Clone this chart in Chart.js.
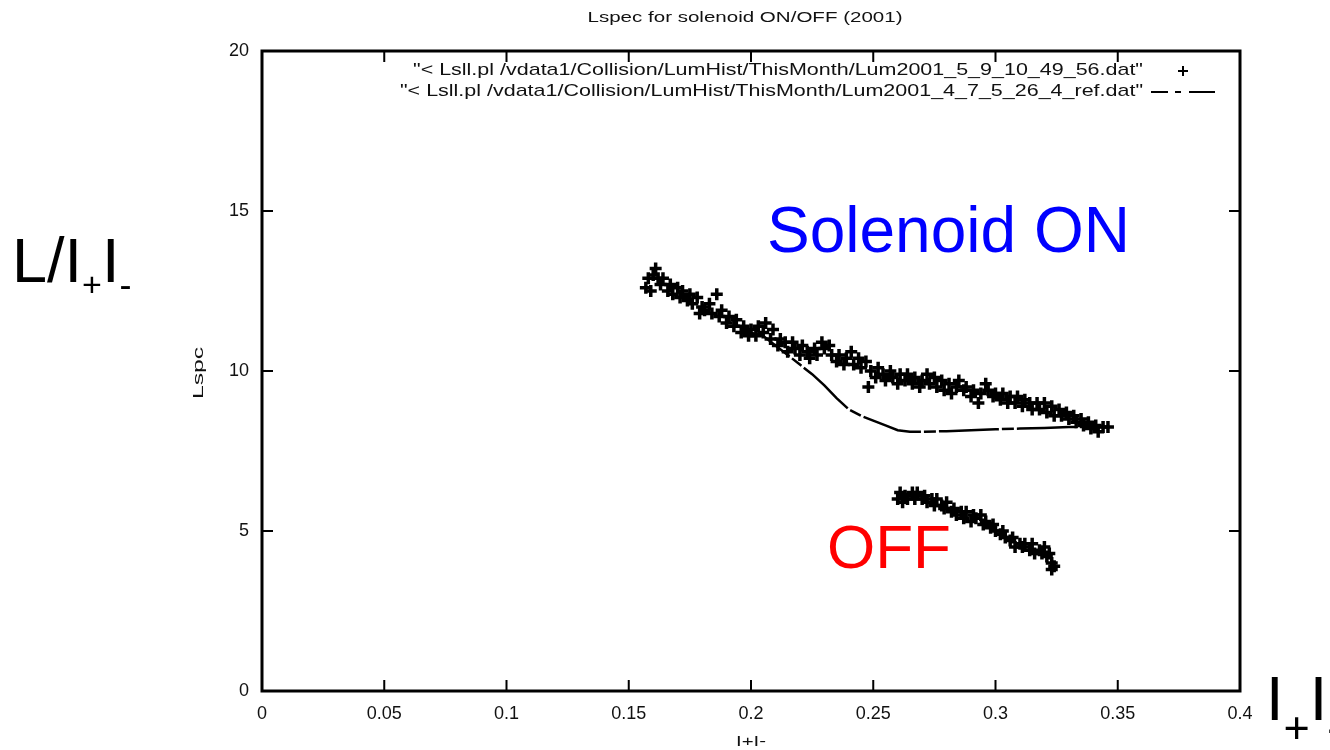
<!DOCTYPE html>
<html>
<head>
<meta charset="utf-8">
<title>Lspec for solenoid ON/OFF (2001)</title>
<script src="https://cdn.jsdelivr.net/npm/chart.js@4.4.0/dist/chart.umd.min.js"></script>
<style>
  html, body { margin: 0; padding: 0; background: #fff; }
  #wrap { position: relative; width: 1330px; height: 750px; overflow: hidden; }
  #canvas { position: absolute; left: 0; top: 0; }
  .big { position: absolute; font-family: "Liberation Sans", Arial, sans-serif; line-height: 1; white-space: nowrap; }
  .big span { display: inline-block; }
</style>
</head>
<body>
<div id="wrap">
  <canvas id="canvas" width="1330" height="750"></canvas>
  <div class="big" style="left:12px; top:229px; font-size:63px; color:#000;">L/I<span style="font-size:34px; vertical-align:-14px;">+</span>I<span style="font-size:36px; vertical-align:-15px;">-</span></div>
  <div class="big" style="left:1266px; top:667px; font-size:63px; color:#000;">I<span style="font-size:45px; vertical-align:-23px;">+</span>I<span style="font-size:45px; vertical-align:-23px;">-</span></div>
  <div class="big" style="left:767px; top:198px; font-size:64px; color:#0000ff;">Solenoid ON</div>
  <div class="big" style="left:827px; top:516px; font-size:62px; color:#ff0000;">OFF</div>
</div>
<script>
// values
const chartTitle = 'Lspec for solenoid ON/OFF (2001)';
const xTitle = 'I+I-';
const yTitle = 'Lspc';
const seriesNames = [
    '"< Lsll.pl /vdata1/Collision/LumHist/ThisMonth/Lum2001_5_9_10_49_56.dat"',
    '"< Lsll.pl /vdata1/Collision/LumHist/ThisMonth/Lum2001_4_7_5_26_4_ref.dat"'
];
const xTicks = [0, 0.05, 0.1, 0.15, 0.2, 0.25, 0.3, 0.35, 0.4];
const xTickLabels = ['0', '0.05', '0.1', '0.15', '0.2', '0.25', '0.3', '0.35', '0.4'];
const yTicks = [0, 5, 10, 15, 20];

// solenoid ON run (points)
const onX = [0.157, 0.158, 0.159, 0.160, 0.161, 0.162, 0.163, 0.164, 0.166, 0.167, 0.168, 0.170, 0.171, 0.172, 0.174, 0.175,
    0.176, 0.178, 0.179, 0.180, 0.181, 0.183, 0.184, 0.186, 0.187, 0.188, 0.190, 0.191, 0.193, 0.194, 0.196, 0.197,
    0.199, 0.200, 0.202, 0.203, 0.205, 0.206, 0.208, 0.209, 0.211, 0.212, 0.214, 0.215, 0.217, 0.218, 0.220, 0.221,
    0.223, 0.224, 0.226, 0.227, 0.229, 0.230, 0.232, 0.233, 0.235, 0.236, 0.238, 0.239, 0.241, 0.242, 0.244, 0.245,
    0.247, 0.248, 0.249, 0.251, 0.252, 0.254, 0.255, 0.257, 0.258, 0.260, 0.261, 0.263, 0.264, 0.266, 0.267, 0.269,
    0.270, 0.272, 0.273, 0.275, 0.276, 0.278, 0.279, 0.281, 0.282, 0.284, 0.285, 0.287, 0.288, 0.290, 0.291, 0.293,
    0.294, 0.296, 0.297, 0.299, 0.300, 0.302, 0.303, 0.305, 0.306, 0.308, 0.309, 0.311, 0.312, 0.314, 0.315, 0.317,
    0.318, 0.320, 0.321, 0.323, 0.324, 0.326, 0.327, 0.329, 0.330, 0.332, 0.333, 0.335, 0.336, 0.338, 0.339, 0.341,
    0.342, 0.344, 0.346];
const onY = [12.6, 12.9, 12.5, 13.0, 13.2, 12.9, 12.7, 12.9, 12.5, 12.7, 12.4, 12.6, 12.3, 12.5, 12.2, 12.4,
    12.1, 12.3, 11.8, 12.0, 11.9, 12.1, 11.8, 12.4, 11.7, 11.9, 11.5, 11.7, 11.4, 11.6, 11.2, 11.4,
    11.1, 11.3, 11.1, 11.4, 11.2, 11.5, 11.0, 11.3, 10.8, 11.0, 10.9, 10.6, 10.9, 10.7, 10.5, 10.8,
    10.6, 10.4, 10.7, 10.5, 10.9, 10.7, 10.8, 10.5, 10.3, 10.5, 10.2, 10.4, 10.6, 10.2, 10.4, 10.1,
    10.3, 9.5, 10.0, 9.8, 10.1, 9.9, 9.7, 10.0, 9.8, 9.6, 9.9, 9.7, 9.9, 9.6, 9.8, 9.5,
    9.7, 9.9, 9.6, 9.8, 9.5, 9.7, 9.4, 9.6, 9.3, 9.5, 9.7, 9.4, 9.5, 9.2, 9.4, 9.0,
    9.3, 9.6, 9.4, 9.2, 9.3, 9.1, 9.3, 9.0, 9.2, 9.0, 9.2, 8.9, 9.1, 9.0, 8.8, 9.0,
    8.8, 9.0, 8.7, 8.9, 8.6, 8.8, 8.6, 8.7, 8.5, 8.6, 8.4, 8.5, 8.3, 8.4, 8.2, 8.3,
    8.1, 8.25, 8.25];

// solenoid OFF run (points)
const offX = [0.260, 0.261, 0.262, 0.263, 0.264, 0.266, 0.267, 0.268, 0.270, 0.271, 0.272, 0.274, 0.275, 0.276, 0.278, 0.279,
    0.280, 0.282, 0.283, 0.284, 0.286, 0.287, 0.288, 0.290, 0.291, 0.292, 0.294, 0.295, 0.296, 0.298, 0.299, 0.300,
    0.302, 0.303, 0.304, 0.306, 0.307, 0.308, 0.310, 0.311, 0.312, 0.314, 0.315, 0.316, 0.318, 0.319, 0.320, 0.321,
    0.322, 0.323, 0.324, 0.323];
const offY = [6.0, 6.2, 5.9, 6.1, 6.0, 6.2, 6.0, 6.2, 6.0, 6.1, 5.9, 6.0, 5.8, 6.0, 5.8, 5.7,
    5.9, 5.6, 5.7, 5.5, 5.6, 5.4, 5.6, 5.3, 5.5, 5.4, 5.5, 5.2, 5.3, 5.1, 5.2, 5.0,
    4.9, 5.0, 4.8, 4.7, 4.8, 4.5, 4.6, 4.5, 4.6, 4.4, 4.6, 4.3, 4.4, 4.3, 4.5, 4.2,
    4.3, 4.0, 3.9, 3.8];

// reference run (line)
const refX = [0.195, 0.200, 0.205, 0.210, 0.215, 0.220, 0.225, 0.230, 0.235, 0.240, 0.245, 0.250, 0.255, 0.260, 0.265, 0.270,
    0.280, 0.290, 0.300, 0.310, 0.320, 0.330, 0.340, 0.346];
const refY = [11.4, 11.2, 11.1, 10.8, 10.5, 10.2, 9.9, 9.55, 9.15, 8.8, 8.6, 8.45, 8.3, 8.15, 8.1, 8.1,
    8.12, 8.15, 8.18, 8.2, 8.22, 8.25, 8.25, 8.25];

const FONT = '"Liberation Sans", Arial, sans-serif';

function pts(xs, ys) {
    return xs.map((x, i) => ({ x: x, y: ys[i] }));
}

// gnuplot text in the picture is wider than plain Arial, so stretch it to a width
function stretchText(ctx, text, x, y, size, width, align) {
    ctx.save();
    ctx.font = size + 'px ' + FONT;
    const w = ctx.measureText(text).width;
    ctx.translate(x, y);
    ctx.scale(width / w, 1);
    ctx.textAlign = align;
    ctx.fillText(text, 0, 0);
    ctx.restore();
}

const gnuplotFrame = {
    id: 'gnuplotFrame',
    afterDatasetsDraw(chart) {
        const ctx = chart.ctx;
        const a = chart.chartArea;
        const xs = chart.scales.x, ys = chart.scales.y;
        ctx.save();
        ctx.strokeStyle = '#000';
        ctx.lineWidth = 3;
        ctx.strokeRect(a.left, a.top, a.right - a.left, a.bottom - a.top);
        ctx.lineWidth = 2;
        ctx.beginPath();
        xTicks.forEach(v => {
            const px = xs.getPixelForValue(v);
            ctx.moveTo(px, a.bottom); ctx.lineTo(px, a.bottom - 11);
            ctx.moveTo(px, a.top); ctx.lineTo(px, a.top + 11);
        });
        yTicks.forEach(v => {
            const py = ys.getPixelForValue(v);
            ctx.moveTo(a.left, py); ctx.lineTo(a.left + 11, py);
            ctx.moveTo(a.right, py); ctx.lineTo(a.right - 11, py);
        });
        ctx.stroke();

        // title and axis titles
        ctx.fillStyle = '#111';
        ctx.textBaseline = 'middle';
        stretchText(ctx, chartTitle, (a.left + a.right) / 2 - 6, 18, 15, 315, 'center');
        ctx.textBaseline = 'top';
        stretchText(ctx, xTitle, (a.left + a.right) / 2, 734, 15, 30, 'center');
        ctx.save();
        ctx.translate(199, (a.top + a.bottom) / 2 + 2);
        ctx.rotate(-Math.PI / 2);
        ctx.textBaseline = 'middle';
        stretchText(ctx, yTitle, 0, 0, 15, 52, 'center');
        ctx.restore();

        // key, top right inside the frame
        const ds = chart.data.datasets;
        ctx.textBaseline = 'middle';
        stretchText(ctx, ds[0].label, 1143, 70, 17, 730, 'right');
        stretchText(ctx, ds[1].label, 1143, 91, 17, 743, 'right');
        Chart.helpers.drawPoint(ctx, { pointStyle: 'cross', radius: 5, borderWidth: 3 }, 1183, 71);
        ctx.lineWidth = 2;
        ctx.setLineDash([17, 7, 6, 8, 40]);
        ctx.beginPath();
        ctx.moveTo(1151, 92);
        ctx.lineTo(1215, 92);
        ctx.stroke();
        ctx.restore();
    }
};

function createVisualization() {
    const ctx = document.getElementById('canvas').getContext('2d');
    new Chart(ctx, {
        type: 'scatter',
        data: {
            datasets: [
                {
                    label: seriesNames[0],
                    data: pts(onX, onY).concat(pts(offX, offY)),
                    pointStyle: 'cross',
                    pointRadius: 6,
                    pointBorderWidth: 3.5,
                    borderColor: '#000',
                    backgroundColor: '#000',
                    showLine: false
                },
                {
                    label: seriesNames[1],
                    data: pts(refX, refY),
                    showLine: true,
                    pointRadius: 0,
                    borderColor: '#000',
                    borderWidth: 2.5,
                    borderDash: [60, 3, 12, 3]
                }
            ]
        },
        options: {
            responsive: false,
            animation: false,
            events: [],
            layout: { padding: { top: 51, right: 90, left: 0, bottom: 0 } },
            scales: {
                x: {
                    type: 'linear',
                    min: 0,
                    max: 0.4,
                    afterFit: s => { s.height = 59; },
                    afterBuildTicks: s => { s.ticks = xTicks.map(v => ({ value: v })); },
                    grid: { display: false, drawTicks: false },
                    border: { display: false },
                    ticks: {
                        padding: 12,
                        color: '#111',
                        font: { family: FONT, size: 18 },
                        maxRotation: 0,
                        autoSkip: false,
                        callback: (v, i) => xTickLabels[i]
                    }
                },
                y: {
                    type: 'linear',
                    min: 0,
                    max: 20,
                    afterFit: s => { s.width = 262; },
                    afterBuildTicks: s => { s.ticks = yTicks.map(v => ({ value: v })); },
                    grid: { display: false, drawTicks: false },
                    border: { display: false },
                    ticks: {
                        padding: 13,
                        color: '#111',
                        font: { family: FONT, size: 18 },
                        autoSkip: false,
                        callback: v => String(v)
                    }
                }
            },
            plugins: {
                legend: { display: false },
                title: { display: false },
                tooltip: { enabled: false }
            }
        },
        plugins: [gnuplotFrame]
    });
}

createVisualization();
</script>
</body>
</html>
